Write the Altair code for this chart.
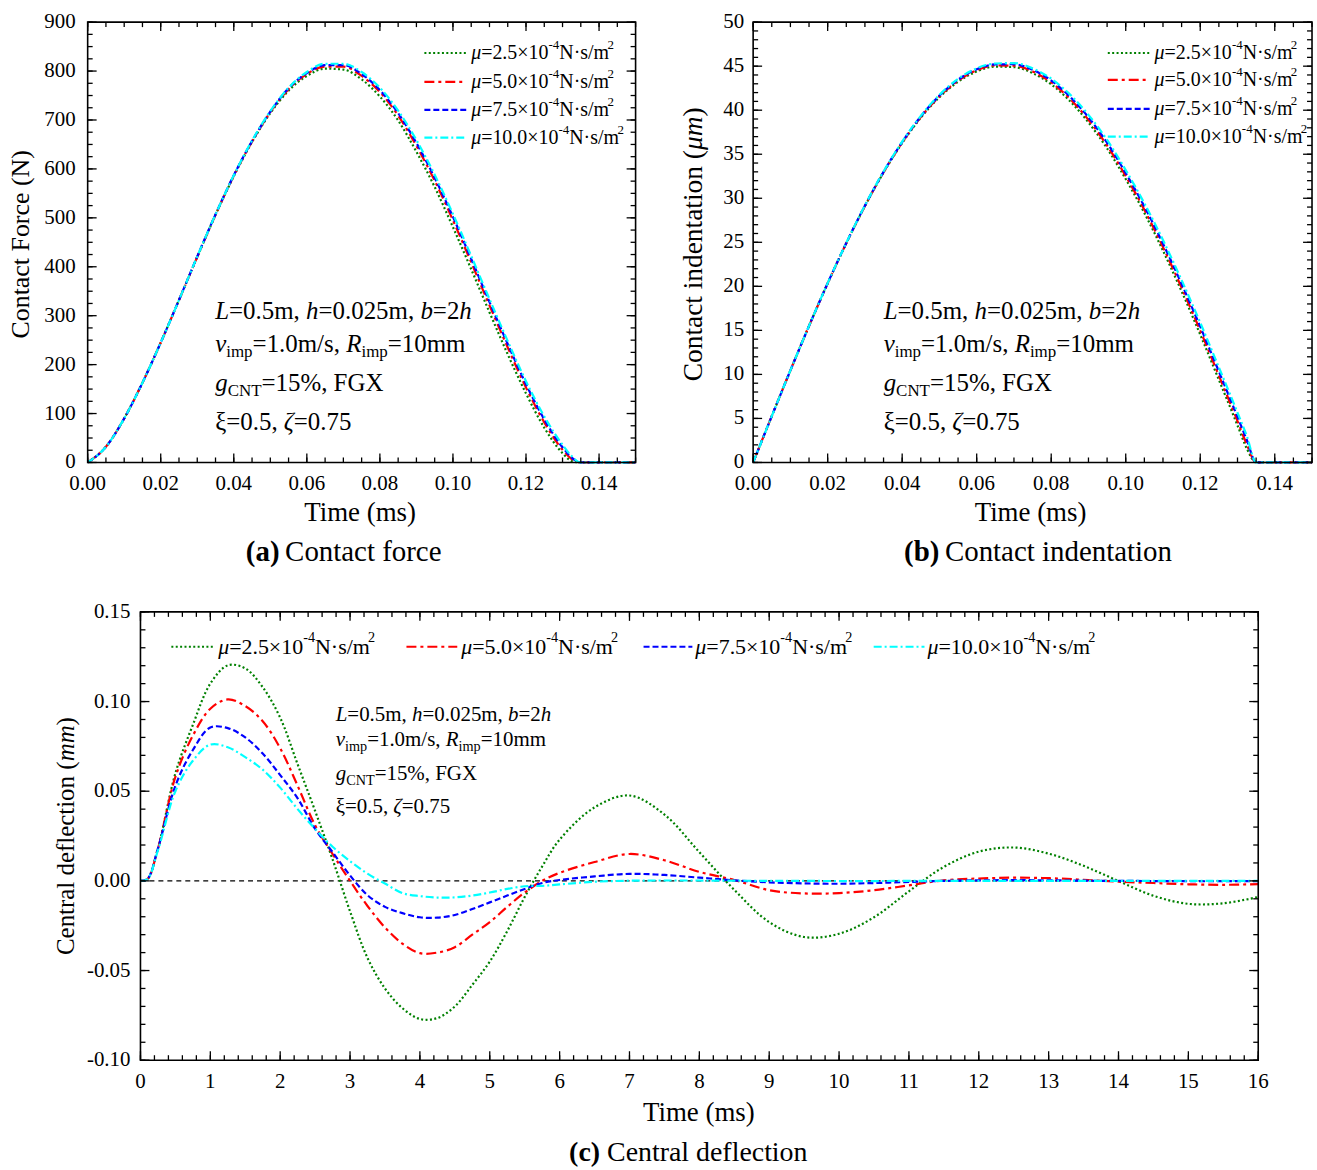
import altair as alt
import pandas as pd

FONT = "Liberation Serif"

# ---------------- data ----------------
SERIES_NUM = ["2.5", "5.0", "7.5", "10.0"]
COLORS = ["#008000", "#FF0000", "#0000FF", "#00FFFF"]
DASHES = [[2, 2.4], [10, 4, 3, 4], [6, 3], [8, 3, 2, 3]]

# (a) contact force, N
t_ab = [0, 0.005, 0.01, 0.015, 0.02, 0.025, 0.03, 0.035, 0.04, 0.045, 0.05, 0.055,
        0.06, 0.065, 0.07, 0.075, 0.08, 0.085, 0.09, 0.095, 0.1, 0.105, 0.11, 0.115,
        0.12, 0.125, 0.13, 0.1325, 0.135, 0.14, 0.145, 0.15]
force_25 = [0, 32, 90, 163, 245, 332, 420, 506, 585, 655, 714, 760, 790, 805, 803, 783,
            748, 699, 635, 563, 481, 395, 307, 221, 141, 71, 19, 3, 0, 0, 0, 0]
force_50 = [0, 32, 90, 163, 245, 332, 420, 506, 586, 656, 716, 763, 794, 809, 809, 790,
            757, 709, 647, 576, 495, 409, 321, 235, 153, 82, 26, 7, 0, 0, 0, 0]
force_75 = [0, 32, 90, 163, 245, 332, 421, 507, 587, 657, 717, 765, 796, 812, 812, 794,
            761, 714, 653, 582, 502, 416, 328, 242, 160, 88, 31, 10, 0, 0, 0, 0]
force_100 = [0, 32, 90, 163, 245, 332, 421, 507, 587, 658, 718, 766, 798, 815, 815, 798,
             766, 719, 659, 588, 508, 422, 334, 248, 166, 94, 36, 13, 0, 0, 0, 0]

# (b) contact indentation, um
ind_25 = [0, 5.26, 10.45, 15.50, 20.34, 24.89, 29.11, 32.92, 36.27, 39.15, 41.48, 43.23,
          44.40, 44.95, 44.89, 44.21, 42.93, 41.05, 38.61, 35.66, 32.18, 28.33, 24.05,
          19.43, 14.52, 9.39, 4.21, 1.58, 0, 0, 0, 0]
ind_50 = [0, 5.26, 10.45, 15.50, 20.34, 24.90, 29.13, 32.96, 36.32, 39.22, 41.57, 43.35,
          44.53, 45.08, 45.06, 44.40, 43.15, 41.30, 38.90, 35.98, 32.52, 28.70, 24.45,
          19.85, 14.97, 9.86, 4.70, 2.05, 0, 0, 0, 0]
ind_75 = [0, 5.26, 10.45, 15.50, 20.35, 24.92, 29.16, 33.00, 36.38, 39.29, 41.66, 43.46,
          44.65, 45.20, 45.22, 44.58, 43.37, 41.55, 39.19, 36.30, 32.86, 29.07, 24.85,
          20.27, 15.42, 10.33, 5.18, 2.55, 0, 0, 0, 0]
ind_100 = [0, 5.26, 10.46, 15.51, 20.36, 24.94, 29.19, 33.04, 36.43, 39.35, 41.74, 43.56,
           44.75, 45.30, 45.35, 44.75, 43.58, 41.80, 39.47, 36.62, 33.20, 29.43, 25.25,
           20.70, 15.88, 10.80, 5.66, 3.00, 0, 0, 0, 0]

# (c) central deflection, mm
t_c = [0, 0.1, 0.25, 0.5, 0.75, 1.0, 1.25, 1.5, 1.75, 2.0, 2.25, 2.5, 2.75, 3.0, 3.25,
       3.5, 3.75, 4.0, 4.25, 4.5, 4.75, 5.0, 5.25, 5.5, 5.75, 6.0, 6.5, 7.0, 7.5, 8.0,
       8.5, 9.0, 9.5, 10.0, 10.5, 11.0, 11.5, 12.0, 12.5, 13.0, 13.5, 14.0, 14.5, 15.0,
       15.5, 16.0]
defl_25 = [0, 0.001, 0.018, 0.060, 0.087, 0.110, 0.1202, 0.1185, 0.108, 0.091, 0.065,
           0.039, 0.012, -0.017, -0.043, -0.060, -0.071, -0.0770, -0.0765, -0.0700,
           -0.058, -0.045, -0.028, -0.009, 0.008, 0.023, 0.041, 0.0476, 0.037, 0.016,
           -0.005, -0.023, -0.0313, -0.0295, -0.0203, -0.0058, 0.0078, 0.0163, 0.0186,
           0.0152, 0.0084, -0.0001, -0.0083, -0.0128, -0.0125, -0.009]
defl_50 = [0, 0.001, 0.018, 0.058, 0.081, 0.096, 0.1012, 0.0975, 0.089, 0.074, 0.053,
           0.031, 0.015, 0.000, -0.014, -0.026, -0.035, -0.0403, -0.0400, -0.037,
           -0.030, -0.023, -0.0145, -0.0065, 0.000, 0.0045, 0.0105, 0.0150, 0.0115,
           0.005, 0.0005, -0.0052, -0.0070, -0.0068, -0.0052, -0.0025, 0.0003, 0.0013,
           0.0018, 0.0015, 0.0006, -0.0004, -0.0012, -0.0019, -0.0022, -0.0018]
defl_75 = [0, 0.001, 0.018, 0.053, 0.073, 0.0855, 0.0852, 0.080, 0.071, 0.059, 0.046,
           0.029, 0.016, 0.003, -0.008, -0.0145, -0.018, -0.0203, -0.0205, -0.019,
           -0.0157, -0.0120, -0.0082, -0.0045, -0.0012, 0.0005, 0.0025, 0.0039, 0.0033,
           0.0018, 0.0003, -0.0008, -0.0014, -0.0016, -0.0012, -0.0006, 0.0, 0.0003,
           0.0004, 0.0003, 0.0001, 0.0, -0.0001, -0.0002, -0.0002, -0.0001]
defl_100 = [0, 0.001, 0.017, 0.050, 0.067, 0.0760, 0.0745, 0.069, 0.062, 0.052, 0.040,
            0.029, 0.019, 0.011, 0.004, -0.0015, -0.0068, -0.0085, -0.0093, -0.0092,
            -0.0082, -0.0065, -0.0045, -0.003, -0.0028, -0.002, -0.0005, 0.0001, 0.0002,
            0.0002, 0.0001, 0.0, 0.0, -0.0001, -0.0001, 0.0, 0.0, 0.0, 0.0, 0.0, 0.0,
            0.0, 0.0, 0.0, 0.0, 0.0]
zero_line = [0.0]

# tick labels
xlab_ab = [0.0, 0.02, 0.04, 0.06, 0.08, 0.10, 0.12, 0.14]
xlab_ab_txt = ["0.00", "0.02", "0.04", "0.06", "0.08", "0.10", "0.12", "0.14"]
ylab_a = [0, 100, 200, 300, 400, 500, 600, 700, 800, 900]
ylab_b = [0, 5, 10, 15, 20, 25, 30, 35, 40, 45, 50]
xlab_c = list(range(0, 17))
ylab_c = [-0.10, -0.05, 0.0, 0.05, 0.10, 0.15]
ylab_c_txt = ["-0.10", "-0.05", "0.00", "0.05", "0.10", "0.15"]

xminor_ab = [round(i * 0.005, 4) for i in range(31)]
yminor_a = [i * 25 for i in range(37)]
yminor_b = [i * 1 for i in range(51)]
xminor_c = [round(i * 0.2, 2) for i in range(81)]
yminor_c = [round(-0.10 + i * 0.01, 3) for i in range(26)]

# ---------------- helpers ----------------
ONE = pd.DataFrame({"k": [0]})

CW = {' ': 0.25, '(': 0.333, ')': 0.333, ',': 0.25, '.': 0.25, '/': 0.278, '=': 0.564,
      '%': 0.833, '×': 0.564, '·': 0.25, '-': 0.333,
      'a': 0.444, 'b': 0.5, 'c': 0.444, 'd': 0.5, 'e': 0.444, 'f': 0.333, 'g': 0.5,
      'h': 0.5, 'i': 0.278, 'l': 0.278, 'm': 0.778, 'n': 0.5, 'o': 0.5, 'p': 0.5,
      'r': 0.333, 's': 0.389, 't': 0.278, 'v': 0.5,
      'C': 0.667, 'F': 0.556, 'G': 0.722, 'L': 0.611, 'N': 0.722, 'R': 0.667,
      'T': 0.611, 'X': 0.722, 'μ': 0.576, 'ξ': 0.44, 'ζ': 0.44}
for d in "0123456789":
    CW[d] = 0.5
CWI = dict(CW)
CWI.update({'L': 0.556, 'v': 0.444, 'R': 0.611, 'μ': 0.5, 'm': 0.722, 'ζ': 0.40,
            'h': 0.5, 'b': 0.5, 'g': 0.5})


def tw(s, size, italic=False):
    tab = CWI if italic else CW
    return sum(tab.get(c, 0.5) for c in s) * size


def rich(runs, x, y, size, align="left", angle=0):
    items, total = [], 0.0
    for text, st in runs:
        fs = size * (0.68 if '_' in st else 0.65 if '^' in st else 1.0)
        it = 'i' in st
        lead = len(text) - len(text.lstrip(' '))
        items.append((text.strip(' '), st, fs, total + tw(' ' * lead, fs)))
        total += tw(text, fs, it)
    start = -total / 2 if align == "center" else 0
    out = []
    for text, st, fs, off in items:
        shift = 0.33 * size if '_' in st else (-0.38 * size if '^' in st else 0)
        if angle == 0:
            px, py = x + start + off, y + shift
        else:
            px, py = x + shift, y - (start + off)
        out.append(
            alt.Chart(ONE).mark_text(
                text=text, font=FONT, fontSize=fs,
                fontStyle='italic' if 'i' in st else 'normal',
                fontWeight='bold' if 'b' in st else 'normal',
                align='left', baseline='middle', angle=angle, color='black'
            ).encode(x=alt.value(px), y=alt.value(py))
        )
    return out


def anchor(x, y):
    return alt.Chart(ONE).mark_rule(color='white', strokeWidth=0.1).encode(
        x=alt.value(x), x2=alt.value(x + 0.1), y=alt.value(y), y2=alt.value(y + 0.1))


def frame(x0, x1, y0, y1):
    return alt.Chart(ONE).mark_rect(fillOpacity=0, stroke='black', strokeWidth=1.6).encode(
        x=alt.value(x0), x2=alt.value(x1), y=alt.value(y0), y2=alt.value(y1))


def ticks(vals, chan, scale, length, x0, x1, y0, y1):
    base = alt.Chart(pd.DataFrame({"v": vals})).mark_rule(color='black', strokeWidth=1.3)
    if chan == 'x':
        enc = alt.X('v:Q', scale=scale, axis=None)
        return [base.encode(x=enc, y=alt.value(y1), y2=alt.value(y1 - length)),
                base.encode(x=enc, y=alt.value(y0), y2=alt.value(y0 + length))]
    enc = alt.Y('v:Q', scale=scale, axis=None)
    return [base.encode(y=enc, x=alt.value(x0), x2=alt.value(x0 + length)),
            base.encode(y=enc, x=alt.value(x1 - length), x2=alt.value(x1))]


def xlabels(vals, txt, scale, y, size=21):
    df = pd.DataFrame({"v": vals, "lab": txt})
    return alt.Chart(df).mark_text(font=FONT, fontSize=size, color='black', align='center',
                                   baseline='middle').encode(
        x=alt.X('v:Q', scale=scale, axis=None), y=alt.value(y), text='lab:N')


def ylabels(vals, txt, scale, x, size=21):
    df = pd.DataFrame({"v": vals, "lab": txt})
    return alt.Chart(df).mark_text(font=FONT, fontSize=size, color='black', align='right',
                                   baseline='middle').encode(
        y=alt.Y('v:Q', scale=scale, axis=None), x=alt.value(x), text='lab:N')


def legend_entry(num, i, lx1, lx2, tx, y, size):
    sym = alt.Chart(ONE).mark_rule(color=COLORS[i], strokeDash=DASHES[i], strokeWidth=2.2).encode(
        x=alt.value(lx1), x2=alt.value(lx2), y=alt.value(y), y2=alt.value(y))
    runs = [("μ", "i"), ("=" + num + "×10", "n"), ("-4", "^"), ("N·s/m", "n"), ("2", "^")]
    return [sym] + rich(runs, tx, y, size)


def annotation(x, ys, size):
    lines = [
        [("L", "i"), ("=0.5m, ", "n"), ("h", "i"), ("=0.025m, ", "n"), ("b", "i"), ("=2", "n"), ("h", "i")],
        [("v", "i"), ("imp", "_"), ("=1.0m/s, ", "n"), ("R", "i"), ("imp", "_"), ("=10mm", "n")],
        [("g", "i"), ("CNT", "_"), ("=15%, FGX", "n")],
        [("ξ=0.5, ", "n"), ("ζ", "i"), ("=0.75", "n")],
    ]
    out = []
    for runs, y in zip(lines, ys):
        out += rich(runs, x, y, size)
    return out


def data_layers(t, series, xs, ys, interp):
    out = []
    for i, vals in enumerate(series):
        df = pd.DataFrame({"t": t, "v": vals})
        out.append(alt.Chart(df).mark_line(
            color=COLORS[i], strokeDash=DASHES[i], strokeWidth=2.2, interpolate=interp,
            strokeCap='butt'
        ).encode(
            x=alt.X('t:Q', scale=xs, axis=None),
            y=alt.Y('v:Q', scale=ys, axis=None),
        ))
    return out


TOP = -19   # top anchor of the first row

# ---------------- panel a ----------------
Wa, Ha = 550, 442
xs_a = alt.Scale(domain=[0, 0.15], nice=False, zero=False)
ys_a = alt.Scale(domain=[0, 900], nice=False, zero=False)
layers_a = data_layers(t_ab, [force_25, force_50, force_75, force_100], xs_a, ys_a, "monotone")
layers_a += ticks(xminor_ab, 'x', xs_a, 5, 0, Wa, 0, Ha)
layers_a += ticks(xlab_ab, 'x', xs_a, 9, 0, Wa, 0, Ha)
layers_a += ticks(yminor_a, 'y', ys_a, 5, 0, Wa, 0, Ha)
layers_a += ticks(ylab_a, 'y', ys_a, 9, 0, Wa, 0, Ha)
layers_a += [frame(0, Wa, 0, Ha), xlabels(xlab_ab, xlab_ab_txt, xs_a, Ha + 22),
             ylabels(ylab_a, [str(v) for v in ylab_a], ys_a, -12)]
for i, (num, y) in enumerate(zip(SERIES_NUM, [31, 60, 88, 116])):
    layers_a += legend_entry(num, i, 338, 380, 385, y, 20)
layers_a += annotation(128, [290, 323, 362, 401], 25)
layers_a += rich([("Time (ms)", "n")], 274, 493, 27, align="center")
layers_a += rich([("Contact Force (N)", "n")], -67, 223, 26, align="center", angle=270)
layers_a += rich([("(a)", "b"), (" Contact force", "n")], 257, 532, 29, align="center")
layers_a += [anchor(-87, TOP), anchor(-87, 560)]
chart_a = alt.layer(*layers_a).properties(width=Wa, height=Ha)

# ---------------- panel b ----------------
Wb, Hb = 561, 442
xs_b = alt.Scale(domain=[0, 0.15], nice=False, zero=False)
ys_b = alt.Scale(domain=[0, 50], nice=False, zero=False)
layers_b = data_layers(t_ab, [ind_25, ind_50, ind_75, ind_100], xs_b, ys_b, "monotone")
layers_b += ticks(xminor_ab, 'x', xs_b, 5, 0, Wb, 0, Hb)
layers_b += ticks(xlab_ab, 'x', xs_b, 9, 0, Wb, 0, Hb)
layers_b += ticks(yminor_b, 'y', ys_b, 5, 0, Wb, 0, Hb)
layers_b += ticks(ylab_b, 'y', ys_b, 9, 0, Wb, 0, Hb)
layers_b += [frame(0, Wb, 0, Hb), xlabels(xlab_ab, xlab_ab_txt, xs_b, Hb + 22),
             ylabels(ylab_b, [str(v) for v in ylab_b], ys_b, -9)]
for i, (num, y) in enumerate(zip(SERIES_NUM, [31, 58, 87, 115])):
    layers_b += legend_entry(num, i, 356, 398, 403, y, 20)
layers_b += annotation(131, [290, 323, 362, 401], 25)
layers_b += rich([("Time (ms)", "n")], 279, 493, 27, align="center")
layers_b += rich([("Contact indentation (", "n"), ("μm", "i"), (")", "n")], -59, 223, 27.5,
                 align="center", angle=270)
layers_b += rich([("(b)", "b"), (" Contact indentation", "n")], 286, 532, 29, align="center")
layers_b += [anchor(-112, TOP), anchor(-112, 560)]
chart_b = alt.layer(*layers_b).properties(width=Wb, height=Hb)

# ---------------- panel c ----------------
OFF = 53                      # plot frame starts 53 px right of panel (a)'s frame
PXC = 1122 / 16               # pixels per ms
Wc, Hc = OFF + 1122, 450
xs_c = alt.Scale(domain=[-OFF / PXC, 16], nice=False, zero=False)
ys_c = alt.Scale(domain=[-0.10, 0.15], nice=False, zero=False)
layers_c = [alt.Chart(pd.DataFrame({"z": zero_line})).mark_rule(
    color='black', strokeDash=[5, 4], strokeWidth=1.5).encode(
    y=alt.Y('z:Q', scale=ys_c, axis=None), x=alt.value(OFF), x2=alt.value(Wc))]
layers_c += data_layers(t_c, [defl_25, defl_50, defl_75, defl_100], xs_c, ys_c, "catmull-rom")
layers_c += ticks(xminor_c, 'x', xs_c, 5, OFF, Wc, 0, Hc)
layers_c += ticks(xlab_c, 'x', xs_c, 9, OFF, Wc, 0, Hc)
layers_c += ticks(yminor_c, 'y', ys_c, 5, OFF, Wc, 0, Hc)
layers_c += ticks(ylab_c, 'y', ys_c, 9, OFF, Wc, 0, Hc)
layers_c += [frame(OFF, Wc, 0, Hc), xlabels(xlab_c, [str(v) for v in xlab_c], xs_c, Hc + 22),
             ylabels(ylab_c, ylab_c_txt, ys_c, OFF - 10)]
leg_c = [(31, 75, 78), (267, 318, 322), (505, 554, 557), (736, 787, 790)]
for i, (num, (l1, l2, tx)) in enumerate(zip(SERIES_NUM, leg_c)):
    layers_c += legend_entry(num, i, OFF + l1, OFF + l2, OFF + tx, 35, 22)
layers_c += annotation(OFF + 196, [104, 129, 163, 196], 21)
layers_c += rich([("Time (ms)", "n")], OFF + 561, 503, 27, align="center")
layers_c += rich([("Central deflection (", "n"), ("mm", "i"), (")", "n")], OFF - 75, 225, 25,
                 align="center", angle=270)
layers_c += rich([("(c)", "b"), (" Central deflection", "n")], OFF + 550, 543, 28, align="center")
layers_c += [anchor(-87, -30)]
chart_c = alt.layer(*layers_c).properties(width=Wc, height=Hc)

row1 = alt.hconcat(chart_a, chart_b, spacing=0)
chart = alt.vconcat(row1, chart_c, spacing=0).properties(padding=0).configure_view(
    stroke=None)

chart.save("out.html", embed_options={"renderer": "svg", "actions": False})
